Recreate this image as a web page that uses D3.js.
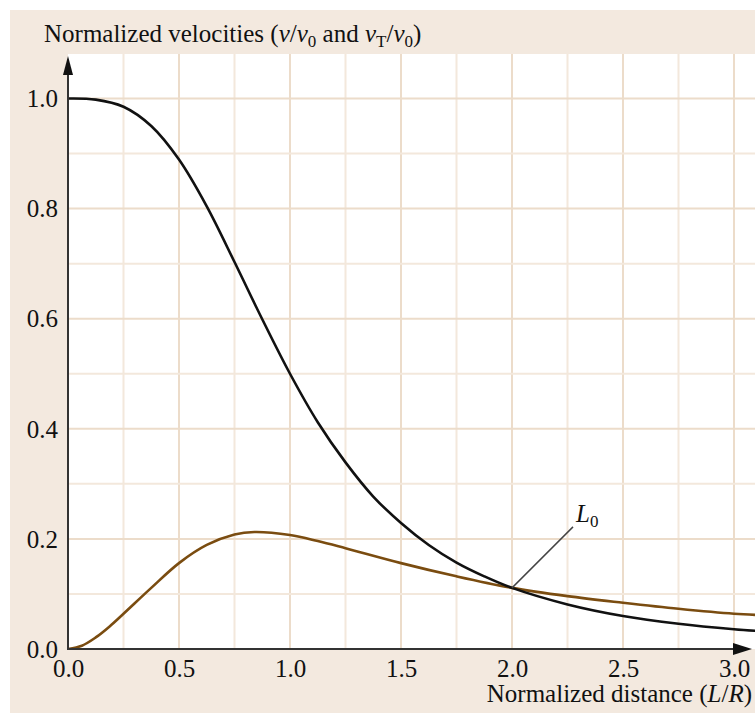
<!DOCTYPE html>
<html>
<head>
<meta charset="utf-8">
<script src="https://cdn.jsdelivr.net/npm/d3@7"></script>
<style>
  body { margin: 0; background: #fff; }
  svg { display: block; }
  svg text { font-family: "Liberation Serif", "DejaVu Serif", serif; fill: #111; }
  .tick text { font-size: 25px; }
</style>
</head>
<body>
<div id="chart"></div>
<script>
// values
const xTicks = [0, 0.5, 1.0, 1.5, 2.0, 2.5, 3.0];
const yTicks = [0, 0.2, 0.4, 0.6, 0.8, 1.0];

// v/v0 (black)
const velX = [0, 0.125, 0.25, 0.375, 0.5, 0.625, 0.75, 0.875, 1.0, 1.125, 1.25, 1.375, 1.5, 1.625, 1.75, 1.875, 2.0, 2.25, 2.5, 2.75, 3.0, 3.1];
const velY = [1.0, 0.998, 0.985, 0.950, 0.889, 0.804, 0.703, 0.599, 0.500, 0.412, 0.339, 0.277, 0.229, 0.189, 0.157, 0.132, 0.111, 0.081, 0.060, 0.046, 0.036, 0.033];

// vT/v0 (brown)
const velTX = [0, 0.0625, 0.125, 0.1875, 0.25, 0.375, 0.5, 0.625, 0.75, 0.84, 1.0, 1.125, 1.25, 1.5, 1.75, 2.0, 2.25, 2.5, 2.75, 3.0, 3.1];
const velTY = [0, 0.006, 0.021, 0.041, 0.064, 0.111, 0.156, 0.189, 0.208, 0.2125, 0.207, 0.196, 0.183, 0.156, 0.132, 0.111, 0.096, 0.084, 0.073, 0.064, 0.062];

const L0 = { x: 2.0, y: 0.111 };

const W = 755, H = 713;
const plot = { left: 68, top: 54, right: 755, bottom: 649 };

const x = d3.scaleLinear().domain([0, 3]).range([68, 734]);
const y = d3.scaleLinear().domain([0, 1]).range([649, 98.5]);

const svg = d3.select("#chart").append("svg").attr("width", W).attr("height", H);

svg.append("rect").attr("x", 10).attr("y", 10).attr("width", W - 10).attr("height", H - 10)
  .attr("fill", "#f3e9df");
svg.append("rect").attr("x", plot.left).attr("y", plot.top)
  .attr("width", plot.right - plot.left).attr("height", plot.bottom - plot.top)
  .attr("fill", "#fff");

svg.append("defs").append("clipPath").attr("id", "clip")
  .append("rect").attr("x", plot.left).attr("y", plot.top)
  .attr("width", plot.right - plot.left).attr("height", plot.bottom - plot.top);

// grid: heavier every 0.5 / 0.2, lighter in between
const grid = svg.append("g").attr("clip-path", "url(#clip)");
const xGrid = d3.range(1, 14).map(i => i * 0.25);
const yGrid = d3.range(1, 11).map(i => i / 10);
grid.selectAll("line.gx").data(xGrid).join("line")
  .attr("x1", d => x(d)).attr("x2", d => x(d))
  .attr("y1", plot.top).attr("y2", plot.bottom)
  .attr("stroke", (d, i) => i % 2 ? "#ecdcca" : "#f3e8dc")
  .attr("stroke-width", 2);
grid.selectAll("line.gy").data(yGrid).join("line")
  .attr("y1", d => y(d)).attr("y2", d => y(d))
  .attr("x1", plot.left).attr("x2", plot.right)
  .attr("stroke", (d, i) => i % 2 ? "#ecdcca" : "#f3e8dc")
  .attr("stroke-width", 2);

// curves
const line = d3.line().x(d => x(d[0])).y(d => y(d[1])).curve(d3.curveCatmullRom.alpha(0.5));
const curves = svg.append("g").attr("clip-path", "url(#clip)");
curves.append("path").datum(d3.zip(velTX, velTY)).attr("d", line)
  .attr("fill", "none").attr("stroke", "#7a4c10").attr("stroke-width", 2.6);
curves.append("path").datum(d3.zip(velX, velY)).attr("d", line)
  .attr("fill", "none").attr("stroke", "#111").attr("stroke-width", 2.6);

// L0 leader
svg.append("line")
  .attr("x1", x(L0.x)).attr("y1", y(L0.y))
  .attr("x2", x(L0.x) + 61).attr("y2", y(L0.y) - 61)
  .attr("stroke", "#444").attr("stroke-width", 1.5);
const l0 = svg.append("text").attr("x", x(L0.x) + 64).attr("y", y(L0.y) - 66)
  .attr("font-size", 25);
l0.append("tspan").attr("font-style", "italic").text("L");
l0.append("tspan").attr("font-size", 17).attr("dy", 5).text("0");

// axes
const xAxis = svg.append("g").attr("transform", `translate(0,${plot.bottom})`)
  .call(d3.axisBottom(x).tickValues(xTicks).tickFormat(d3.format(".1f")).tickSize(0).tickPadding(10));
xAxis.select(".domain").remove();
xAxis.selectAll(".tick text").attr("dy", "0.71em");

const yAxis = svg.append("g").attr("transform", `translate(${plot.left},0)`)
  .call(d3.axisLeft(y).tickValues(yTicks).tickFormat(d3.format(".1f")).tickSize(0).tickPadding(10));
yAxis.select(".domain").remove();
yAxis.selectAll(".tick text").attr("dy", "0.33em");

svg.append("line").attr("x1", plot.left).attr("x2", 736)
  .attr("y1", plot.bottom).attr("y2", plot.bottom)
  .attr("stroke", "#333").attr("stroke-width", 2);
svg.append("path")
  .attr("d", `M752,${plot.bottom} L733,${plot.bottom - 6} L733,${plot.bottom + 6} Z`)
  .attr("fill", "#111");
svg.append("line").attr("x1", plot.left).attr("x2", plot.left)
  .attr("y1", plot.bottom + 1).attr("y2", 72)
  .attr("stroke", "#333").attr("stroke-width", 2);
svg.append("path")
  .attr("d", `M${plot.left},56 L${plot.left - 5},75 L${plot.left + 5},75 Z`)
  .attr("fill", "#111");

// titles
const t = svg.append("text").attr("x", 44).attr("y", 42).attr("font-size", 25);
t.append("tspan").text("Normalized velocities (");
t.append("tspan").attr("font-style", "italic").text("v");
t.append("tspan").text("/");
t.append("tspan").attr("font-style", "italic").text("v");
t.append("tspan").attr("font-size", 17).attr("dy", 5).text("0");
t.append("tspan").attr("dy", -5).text(" and ");
t.append("tspan").attr("font-style", "italic").text("v");
t.append("tspan").attr("font-size", 17).attr("dy", 5).text("T");
t.append("tspan").attr("dy", -5).text("/");
t.append("tspan").attr("font-style", "italic").text("v");
t.append("tspan").attr("font-size", 17).attr("dy", 5).text("0");
t.append("tspan").attr("dy", -5).text(")");

const xt = svg.append("text").attr("x", 752).attr("y", 702).attr("text-anchor", "end")
  .attr("font-size", 25);
xt.append("tspan").text("Normalized distance (");
xt.append("tspan").attr("font-style", "italic").text("L");
xt.append("tspan").text("/");
xt.append("tspan").attr("font-style", "italic").text("R");
xt.append("tspan").text(")");
</script>
</body>
</html>
